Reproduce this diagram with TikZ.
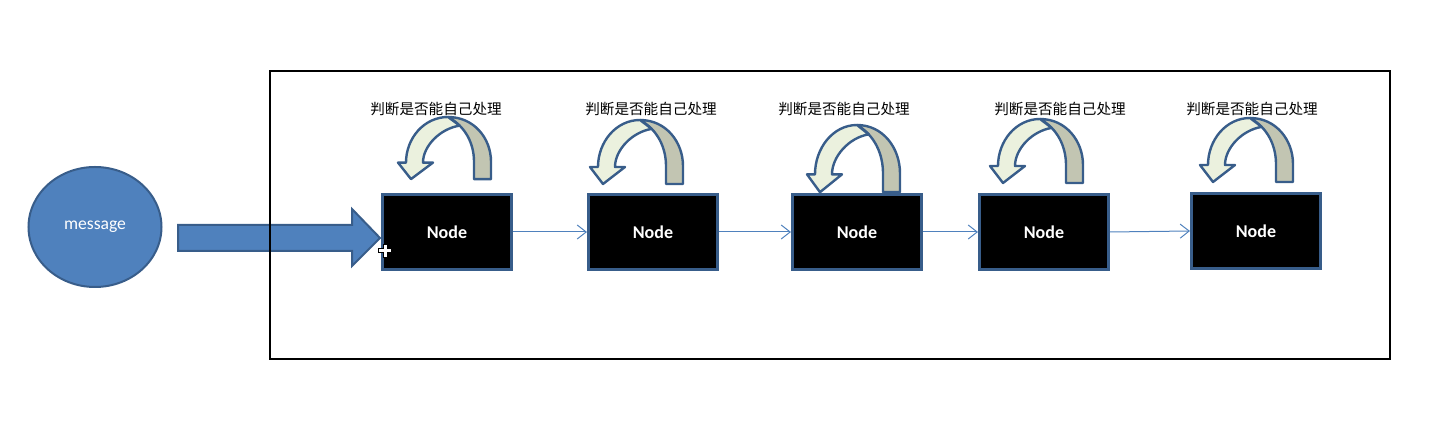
\documentclass[tikz,border=0pt]{standalone}
\usepackage{fontspec}
\setmainfont{Carlito}
\newfontfamily\cjk{Noto Sans CJK SC}
\usetikzlibrary{arrows.meta,shapes.geometric}
\definecolor{accblue}{HTML}{4F81BD}
\definecolor{edgeblue}{HTML}{385D8A}
\definecolor{lightarr}{HTML}{EBF1DE}
\definecolor{darkarr}{HTML}{C2C5B2}
\tikzset{
  nodebox/.style={draw=edgeblue, line width=1.4pt, fill=black, minimum width=64.6pt,
    minimum height=37.6pt, inner sep=0pt, text=white, font=\bfseries\fontsize{9}{10}\selectfont},
  link/.style={draw=accblue, line width=0.5pt, -{Straight Barb[length=4.5pt,width=7pt]}},
  lbl/.style={font=\cjk\fontsize{7.3}{8}\selectfont, inner sep=0pt},
  msgbox/.style={ellipse, draw=edgeblue, line width=1pt, fill=accblue, minimum width=66.5pt,
    minimum height=60pt, inner sep=0pt, text=white, font=\fontsize{8.8}{10}\selectfont},
  uturn/.pic={
    \draw[edgeblue, line width=1.2pt, fill=darkarr, line join=round]
      (0,0) .. controls (26,0) and (43,22) .. (43,46) -- (43,64) -- (26,64) -- (26,46)
      .. controls (26,28) and (18,10) .. (0,0) -- cycle;
    \draw[edgeblue, line width=1.2pt, fill=lightarr, line join=round]
      (0,0) .. controls (-24,0) and (-42,22) .. (-42,47) -- (-50,47) -- (-37,64) -- (-15,47)
      -- (-25,47) .. controls (-25,30) and (-8,12) .. (11.7,8.9) -- cycle;
  }
}
\begin{document}
\begin{tikzpicture}[x=0.5pt,y=-0.5pt]
\useasboundingbox (0,0) rectangle (1432,426);
% message ellipse
\node[msgbox] (msg) at (95,227) {message\hspace{5pt}};
% nodes
\node[nodebox] (n1) at (447,232) {Node\hspace{13pt}};
\node[nodebox] (n2) at (653,232) {Node};
\node[nodebox] (n3) at (857,232) {Node\hspace{9pt}};
\node[nodebox] (n4) at (1044,232) {Node\hspace{9pt}};
\node[nodebox] (n5) at (1256,231) {Node};
% big block arrow from message to first node
\draw[edgeblue, line width=1pt, fill=accblue, line join=miter]
  (178,225) -- (352,225) -- (352,209) -- (380,238) -- (352,266) -- (352,251) -- (178,251) -- cycle;
% frame
\draw[black, line width=1pt] (270,71) rectangle (1390,359);
% thin links
\draw[link] (n1.east) -- (n2.west);
\draw[link] (n2.east) -- (n3.west);
\draw[link] (n3.east) -- (n4.west);
\draw[link] (n4.east) -- (n5.west);
% self-loop arrows
\pic[yscale=0.97] at (448,117) {uturn};
\pic at (640,120) {uturn};
\pic[yscale=1.05] at (857,125) {uturn};
\pic at (1040,119) {uturn};
\pic at (1250,118) {uturn};
% labels
\node[lbl] (l1) at (436,109) {判断是否能自己处理};
\node[lbl] (l2) at (651,109) {判断是否能自己处理};
\node[lbl] (l3) at (844,109) {判断是否能自己处理};
\node[lbl] (l4) at (1060,109) {判断是否能自己处理};
\node[lbl] (l5) at (1252,109) {判断是否能自己处理};
% cursor cross
\draw[black, line width=0.5pt, fill=white]
  (383,244.5) -- (387,244.5) -- (387,249) -- (391.5,249) -- (391.5,253) -- (387,253)
  -- (387,257.5) -- (383,257.5) -- (383,253) -- (378.5,253) -- (378.5,249) -- (383,249) -- cycle;
\end{tikzpicture}
\end{document}
